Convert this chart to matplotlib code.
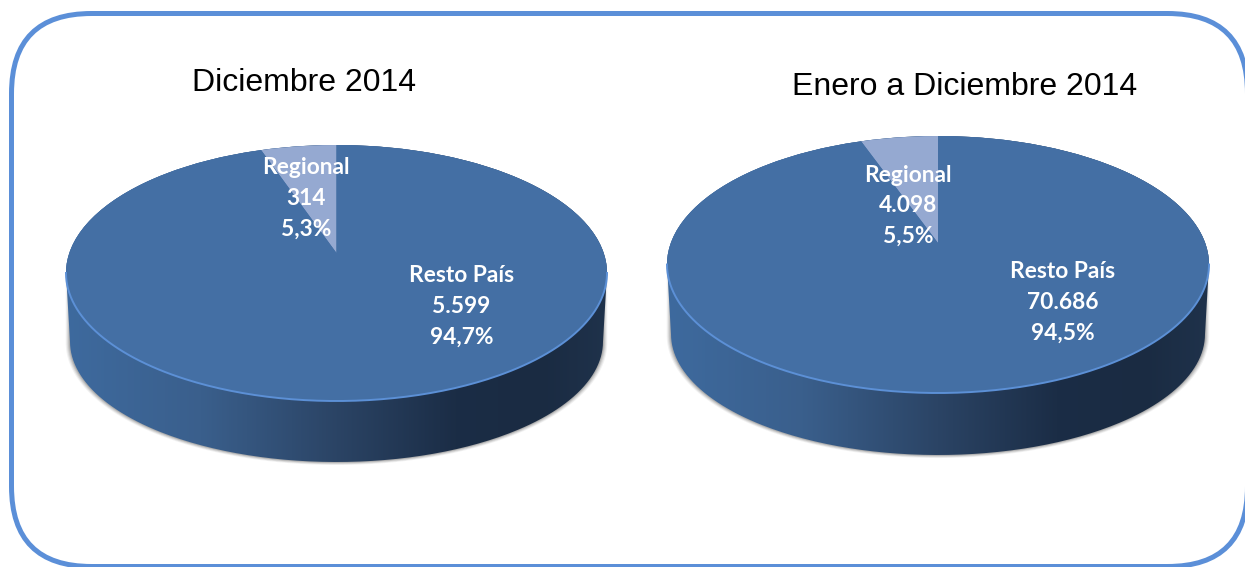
import numpy as np
from matplotlib import pyplot as plt
from matplotlib.colors import LinearSegmentedColormap
from matplotlib.patches import Ellipse, FancyBboxPatch, PathPatch, Polygon
from matplotlib.path import Path

titles = ['Diciembre 2014', 'Enero a Diciembre 2014']
categories = ['Regional', 'Resto País']
values_dec = [314, 5599]
values_year = [4098, 70686]
value_labels_dec = ['314', '5.599']
value_labels_year = ['4.098', '70.686']
percent_labels_dec = ['5,3%', '94,7%']
percent_labels_year = ['5,5%', '94,5%']

WIDTH, HEIGHT = 1245, 567
TOP_COLOR = '#446fa4'
SLICE_COLOR = '#95a9d1'
RIM_COLOR = '#5c90d6'
FRAME_COLOR = '#5b8fd8'
SIDE_COLORS = [(0, '#3e6a9e'), (0.25, '#3a5f8c'), (0.5, '#2b4465'), (0.72, '#1b2d46'),
               (0.88, '#1a2b42'), (1, '#1f324b')]
LABEL_FONT = 'Lato'
TITLE_FONT = 'Liberation Sans'


def pixelAxes(fig, zorder):
    ax = fig.add_axes([0, 0, 1, 1], facecolor='none', zorder=zorder)
    ax.set_xlim(0, WIDTH)
    ax.set_ylim(HEIGHT, 0)
    ax.set_axis_off()
    return ax


def drawPie(fig, values, cx, cy, rx, ry, apexY, bottomY):
    # one axes per pie, scaled so the unit circle lands on the flattened disc
    ax = fig.add_axes([0, 0, 1, 1], facecolor='none', zorder=1)

    t = np.linspace(np.pi, 2 * np.pi, 200)
    bottomRx = (rx - 4) / rx
    bottomRy = 0.94
    bottomCy = (cy - (bottomY - bottomRy * ry)) / ry
    lowerX = bottomRx * np.cos(t)
    lowerY = bottomCy + bottomRy * np.sin(t)
    upperT = np.linspace(0, np.pi, 200)
    sideX = np.r_[lowerX, np.cos(upperT)]
    sideY = np.r_[lowerY, np.sin(upperT)]
    side = np.c_[sideX, sideY]

    # soft shadow under the side only, runs up behind the disc so it has no step
    lower = np.c_[np.r_[lowerX[0], lowerX, lowerX[-1]], np.r_[0, lowerY, 0]]
    for grow, alpha in zip([0.016, 0.012, 0.008, 0.004], [0.08, 0.12, 0.16, 0.22]):
        shadow = lower * [1 + grow, 1 + grow]
        ax.add_patch(Polygon(shadow, closed=True, fc='#555555', ec='none', alpha=alpha))

    gradient = np.linspace(0, 1, 256).reshape(1, -1)
    cmap = LinearSegmentedColormap.from_list('side', SIDE_COLORS)
    image = ax.imshow(gradient, extent=[-1, 1, -3, 1], cmap=cmap, aspect='auto', zorder=2)
    image.set_clip_path(PathPatch(Path(side), transform=ax.transData))

    disc = Ellipse((0, 0), 2, 2, fc=TOP_COLOR, ec='none', zorder=3)
    ax.add_patch(disc)

    # apex of the slice sits above the disc centre, the disc clips the rest
    wedges, _ = ax.pie(values, colors=[SLICE_COLOR, TOP_COLOR], startangle=90,
                       counterclock=True, radius=1.6, center=(0, (cy - apexY) / ry),
                       wedgeprops={'linewidth': 0, 'zorder': 4})
    for wedge in wedges:
        wedge.set_clip_on(True)
        wedge.set_clip_path(disc)

    ax.plot(np.cos(t), np.sin(t), color=RIM_COLOR, lw=1.4, zorder=5)

    ax.set_aspect('auto')
    ax.set_xlim((0 - cx) / rx, (WIDTH - cx) / rx)
    ax.set_ylim((cy - HEIGHT) / ry, cy / ry)
    ax.set_axis_off()


def drawLabel(ax, x, y, lines):
    for i, text in enumerate(lines):
        ax.text(x, y + i * 30.5, text, color='white', fontsize=16.4, fontweight='bold',
                family=LABEL_FONT, ha='center', va='center')


fig = plt.figure(figsize=(WIDTH / 100, HEIGHT / 100), dpi=100, facecolor='white')

# frame goes under the pies, filled so the rounded corners survive at the canvas edge
back = pixelAxes(fig, 0)
pad = 80
back.add_patch(FancyBboxPatch((11.5 + pad, 13.5 + pad), 1236 - 2 * pad, 553 - 2 * pad,
                              boxstyle=f'round,pad={pad},rounding_size={pad}',
                              fc='white', ec=FRAME_COLOR, lw=3.6))

drawPie(fig, values_dec, 336.5, 273, 270.5, 128, 253, 462)
drawPie(fig, values_year, 938, 264.5, 271, 128.5, 243, 455)

over = pixelAxes(fig, 2)

over.text(304.5, 83, titles[0], fontsize=23, family=TITLE_FONT, color='black', ha='center', va='center')
over.text(965, 87, titles[1], fontsize=23, family=TITLE_FONT, color='black', ha='center', va='center')

drawLabel(over, 306, 168, [categories[0], value_labels_dec[0], percent_labels_dec[0]])
drawLabel(over, 461.5, 276, [categories[1], value_labels_dec[1], percent_labels_dec[1]])
drawLabel(over, 908, 175, [categories[0], value_labels_year[0], percent_labels_year[0]])
drawLabel(over, 1062.5, 272, [categories[1], value_labels_year[1], percent_labels_year[1]])

fig.savefig('out.png', dpi=100)
